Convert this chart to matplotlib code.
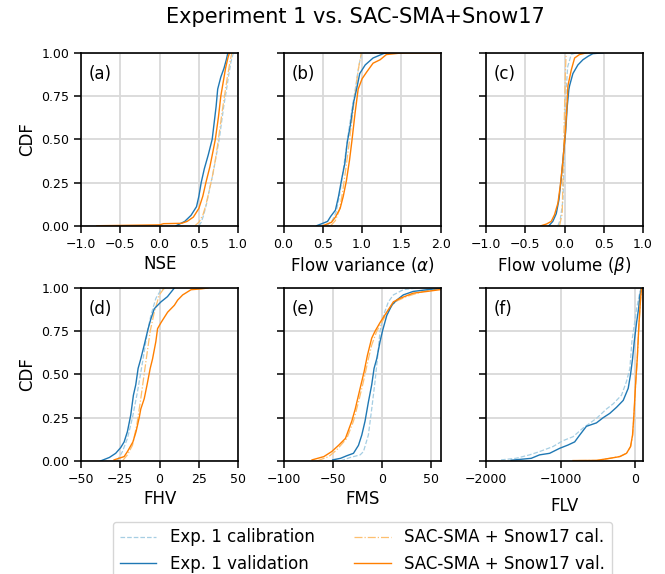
import matplotlib
matplotlib.use("Agg")
import matplotlib.pyplot as plt

series_labels = ["Exp. 1 calibration", "Exp. 1 validation",
                 "SAC-SMA + Snow17 cal.", "SAC-SMA + Snow17 val."]

# ---- (a) NSE : points (metric value, CDF) ----
nse_exp_cal_x = [0.50, 0.53, 0.56, 0.60, 0.64, 0.68, 0.72, 0.76, 0.79, 0.82, 0.85, 0.88, 0.91, 0.94]
nse_exp_cal_p = [0.00, 0.02, 0.06, 0.13, 0.22, 0.30, 0.40, 0.50, 0.60, 0.70, 0.78, 0.87, 0.95, 1.00]
nse_exp_val_x = [0.21, 0.32, 0.40, 0.47, 0.50, 0.53, 0.57, 0.62, 0.67, 0.72, 0.74, 0.78, 0.82, 0.85, 0.87]
nse_exp_val_p = [0.00, 0.025, 0.06, 0.11, 0.17, 0.25, 0.33, 0.41, 0.50, 0.69, 0.79, 0.86, 0.91, 0.96, 1.00]
nse_sac_cal_x = [0.45, 0.50, 0.55, 0.59, 0.63, 0.67, 0.71, 0.74, 0.77, 0.80, 0.83, 0.86, 0.89, 0.92]
nse_sac_cal_p = [0.00, 0.02, 0.06, 0.12, 0.20, 0.28, 0.38, 0.47, 0.57, 0.67, 0.76, 0.85, 0.93, 1.00]
nse_sac_val_x = [-0.80, 0.00, 0.05, 0.28, 0.35, 0.43, 0.50, 0.55, 0.59, 0.64, 0.68, 0.71, 0.75, 0.78, 0.81, 0.84, 0.87, 0.89]
nse_sac_val_p = [0.000, 0.005, 0.012, 0.014, 0.025, 0.05, 0.10, 0.17, 0.25, 0.34, 0.43, 0.50, 0.63, 0.75, 0.83, 0.91, 0.97, 1.00]

# ---- (b) Flow variance (alpha) ----
alpha_exp_cal_x = [0.55, 0.62, 0.67, 0.71, 0.75, 0.79, 0.83, 0.87, 0.91, 0.94, 0.97, 1.00]
alpha_exp_cal_p = [0.00, 0.03, 0.08, 0.17, 0.29, 0.42, 0.55, 0.67, 0.78, 0.87, 0.95, 1.00]
alpha_exp_val_x = [0.42, 0.56, 0.60, 0.66, 0.70, 0.74, 0.78, 0.81, 0.85, 0.89, 0.93, 0.97, 1.04, 1.14, 1.27, 1.31]
alpha_exp_val_p = [0.00, 0.025, 0.054, 0.09, 0.17, 0.27, 0.36, 0.48, 0.58, 0.71, 0.79, 0.88, 0.93, 0.97, 0.995, 1.00]
alpha_sac_cal_x = [0.60, 0.66, 0.71, 0.75, 0.79, 0.83, 0.87, 0.91, 0.95, 0.99]
alpha_sac_cal_p = [0.00, 0.03, 0.09, 0.19, 0.32, 0.46, 0.61, 0.76, 0.90, 1.00]
alpha_sac_val_x = [0.50, 0.61, 0.66, 0.72, 0.76, 0.80, 0.84, 0.87, 0.91, 0.95, 1.00, 1.06, 1.14, 1.23, 1.31, 1.48, 2.10]
alpha_sac_val_p = [0.00, 0.02, 0.05, 0.10, 0.17, 0.26, 0.38, 0.49, 0.65, 0.79, 0.85, 0.89, 0.94, 0.96, 0.99, 0.998, 1.00]

# ---- (c) Flow volume (beta) ----
beta_exp_cal_x = [-0.085, -0.055, -0.02, 0.00, 0.02, 0.04, 0.085, 0.15]
beta_exp_cal_p = [0.00, 0.035, 0.15, 0.50, 0.79, 0.92, 0.99, 1.00]
beta_exp_val_x = [-0.20, -0.15, -0.106, -0.072, -0.043, -0.013, 0.013, 0.034, 0.055, 0.064, 0.106, 0.17, 0.234, 0.30, 0.36, 0.49]
beta_exp_val_p = [0.00, 0.025, 0.07, 0.15, 0.27, 0.42, 0.54, 0.69, 0.79, 0.81, 0.88, 0.93, 0.96, 0.98, 0.995, 1.00]
beta_sac_cal_x = [-0.064, -0.03, -0.01, 0.01, 0.02]
beta_sac_cal_p = [0.00, 0.07, 0.50, 0.88, 1.00]
beta_sac_val_x = [-0.30, -0.23, -0.17, -0.128, -0.085, -0.055, -0.02, 0.01, 0.03, 0.043, 0.085, 0.128, 0.19, 0.28]
beta_sac_val_p = [0.00, 0.01, 0.025, 0.064, 0.13, 0.23, 0.38, 0.54, 0.69, 0.81, 0.90, 0.97, 0.99, 1.00]

# ---- (d) FHV ----
fhv_exp_cal_x = [-27.0, -23.7, -20.5, -17.3, -14.1, -10.9, -7.7, -5.6, -2.4, 0.9, 4.0]
fhv_exp_cal_p = [0.00, 0.054, 0.13, 0.25, 0.40, 0.57, 0.75, 0.84, 0.94, 0.99, 1.00]
fhv_exp_val_x = [-37.6, -32.0, -28.0, -24.8, -22.6, -20.5, -18.4, -16.7, -15.2, -13.7, -12.0, -9.8, -7.3, -5.6, -3.4, 0.9, 5.0, 9.4]
fhv_exp_val_p = [0.00, 0.02, 0.044, 0.077, 0.11, 0.17, 0.265, 0.38, 0.44, 0.535, 0.59, 0.67, 0.765, 0.82, 0.88, 0.92, 0.95, 1.00]
fhv_sac_cal_x = [-23.7, -20.5, -17.3, -14.5, -12.0, -8.8, -6.0, -3.4, -0.2, 3.0]
fhv_sac_cal_p = [0.00, 0.035, 0.09, 0.21, 0.36, 0.57, 0.75, 0.86, 0.96, 1.00]
fhv_sac_val_x = [-29.0, -22.6, -20.5, -17.0, -15.0, -13.0, -12.0, -9.8, -8.0, -6.0, -4.5, -2.4, -1.3, 0.9, 5.1, 9.4, 11.5, 14.7, 20.0, 26.5, 30.8]
fhv_sac_val_p = [0.006, 0.025, 0.054, 0.11, 0.17, 0.25, 0.30, 0.36, 0.44, 0.535, 0.59, 0.69, 0.765, 0.80, 0.86, 0.90, 0.93, 0.96, 0.99, 0.995, 1.00]

# ---- (e) FMS ----
fms_exp_cal_x = [-42.0, -32.0, -22.0, -18.6, -13.6, -10.2, -6.8, -4.4, -1.7, 1.7, 6.8, 11.9, 22.0, 35.6]
fms_exp_cal_p = [0.00, 0.02, 0.035, 0.054, 0.15, 0.30, 0.46, 0.59, 0.75, 0.84, 0.92, 0.96, 0.99, 1.00]
fms_exp_val_x = [-50.0, -42.0, -35.6, -28.8, -23.7, -20.3, -17.0, -13.6, -10.2, -7.8, -5.1, -1.7, 1.0, 5.1, 10.2, 15.3, 22.0, 32.0, 46.0, 63.0]
fms_exp_val_p = [0.006, 0.015, 0.03, 0.044, 0.09, 0.15, 0.23, 0.34, 0.44, 0.535, 0.59, 0.69, 0.756, 0.84, 0.90, 0.93, 0.96, 0.98, 0.99, 1.00]
fms_sac_cal_x = [-66.0, -54.0, -46.0, -35.6, -28.8, -23.7, -18.6, -13.6, -10.2, -5.1, 0.0, 6.8, 13.6, 25.0, 42.0, 65.0]
fms_sac_cal_p = [0.00, 0.025, 0.063, 0.13, 0.23, 0.34, 0.46, 0.59, 0.67, 0.75, 0.80, 0.87, 0.92, 0.95, 0.98, 1.00]
fms_sac_val_x = [-71.0, -59.0, -51.0, -44.0, -37.0, -30.5, -27.0, -22.0, -18.0, -14.6, -10.2, -6.8, -1.7, 5.1, 11.9, 18.6, 32.0, 46.0, 59.0, 70.0]
fms_sac_val_p = [0.006, 0.025, 0.054, 0.09, 0.13, 0.23, 0.30, 0.42, 0.515, 0.61, 0.71, 0.75, 0.80, 0.86, 0.92, 0.94, 0.97, 0.98, 0.99, 1.00]

# ---- (f) FLV ----
flv_exp_cal_x = [-1800, -1600, -1417, -1283, -1103, -969, -834, -700, -520, -386, -296, -184, -117, -72, -45, -13, 18, 63, 85]
flv_exp_cal_p = [0.006, 0.015, 0.035, 0.054, 0.083, 0.117, 0.14, 0.19, 0.246, 0.30, 0.33, 0.38, 0.46, 0.535, 0.69, 0.785, 0.88, 0.98, 1.00]
flv_exp_val_x = [-1664, -1395, -1283, -1148, -1013, -901, -812, -744, -655, -520, -430, -341, -251, -161, -94, -63, -36, -13, 18, 45, 63, 85]
flv_exp_val_p = [0.004, 0.015, 0.035, 0.044, 0.073, 0.092, 0.11, 0.15, 0.20, 0.22, 0.25, 0.275, 0.31, 0.35, 0.42, 0.50, 0.59, 0.69, 0.80, 0.88, 0.96, 1.00]
flv_sac_cal_x = [-760, -500, -330, -200, -112, -60, -33, -16, 5, 28, 50, 73, 88]
flv_sac_cal_p = [0.002, 0.003, 0.016, 0.027, 0.046, 0.085, 0.15, 0.265, 0.44, 0.59, 0.785, 0.94, 1.00]
flv_sac_val_x = [-834, -520, -341, -206, -117, -63, -36, -18, 4, 27, 49, 72, 85]
flv_sac_val_p = [0.002, 0.003, 0.015, 0.025, 0.044, 0.083, 0.15, 0.265, 0.44, 0.59, 0.785, 0.94, 1.00]

panels = [
    ("(a)", "NSE", (-1.0, 1.0), [-1.0, -0.5, 0.0, 0.5, 1.0], ["−1.0", "−0.5", "0.0", "0.5", "1.0"],
     [(nse_exp_cal_x, nse_exp_cal_p), (nse_exp_val_x, nse_exp_val_p),
      (nse_sac_cal_x, nse_sac_cal_p), (nse_sac_val_x, nse_sac_val_p)]),
    ("(b)", r"Flow variance ($\alpha$)", (0.0, 2.0), [0.0, 0.5, 1.0, 1.5, 2.0], ["0.0", "0.5", "1.0", "1.5", "2.0"],
     [(alpha_exp_cal_x, alpha_exp_cal_p), (alpha_exp_val_x, alpha_exp_val_p),
      (alpha_sac_cal_x, alpha_sac_cal_p), (alpha_sac_val_x, alpha_sac_val_p)]),
    ("(c)", r"Flow volume ($\beta$)", (-1.0, 1.0), [-1.0, -0.5, 0.0, 0.5, 1.0], ["−1.0", "−0.5", "0.0", "0.5", "1.0"],
     [(beta_exp_cal_x, beta_exp_cal_p), (beta_exp_val_x, beta_exp_val_p),
      (beta_sac_cal_x, beta_sac_cal_p), (beta_sac_val_x, beta_sac_val_p)]),
    ("(d)", "FHV", (-50, 50), [-50, -25, 0, 25, 50], ["−50", "−25", "0", "25", "50"],
     [(fhv_exp_cal_x, fhv_exp_cal_p), (fhv_exp_val_x, fhv_exp_val_p),
      (fhv_sac_cal_x, fhv_sac_cal_p), (fhv_sac_val_x, fhv_sac_val_p)]),
    ("(e)", "FMS", (-100, 60), [-100, -50, 0, 50], ["−100", "−50", "0", "50"],
     [(fms_exp_cal_x, fms_exp_cal_p), (fms_exp_val_x, fms_exp_val_p),
      (fms_sac_cal_x, fms_sac_cal_p), (fms_sac_val_x, fms_sac_val_p)]),
    ("(f)", "FLV", (-2000, 105), [-2000, -1000, 0], ["−2000", "−1000", "0"],
     [(flv_exp_cal_x, flv_exp_cal_p), (flv_exp_val_x, flv_exp_val_p),
      (flv_sac_cal_x, flv_sac_cal_p), (flv_sac_val_x, flv_sac_val_p)]),
]

colors = ["#a6cee3", "#1f78b4", "#fdbf6f", "#ff7f00"]
styles = ["--", "-", "-.", "-"]
widths = [0.9, 1.0, 0.9, 1.0]
draw_order = [0, 2, 1, 3]

fig, axes = plt.subplots(2, 3, figsize=(6.65, 5.74), dpi=100)
fig.subplots_adjust(left=0.122, right=0.967, top=0.908, bottom=0.197, wspace=0.29, hspace=0.36)

handles = [None] * 4
for ax, (tag, xlabel, xlim, xticks, xticklabels, data) in zip(axes.flat, panels):
    for i in draw_order:
        xs, ps = data[i]
        h, = ax.plot(xs, ps, color=colors[i], linestyle=styles[i], lw=widths[i],
                     label=series_labels[i])
        handles[i] = h
    ax.set_xlim(*xlim)
    ax.set_ylim(0, 1)
    ax.set_xticks(xticks)
    ax.set_xticklabels(xticklabels, fontsize=9)
    ax.set_yticks([0, 0.25, 0.5, 0.75, 1.0])
    ax.tick_params(length=5, width=1.1, labelsize=9, pad=3.5)
    ax.grid(True, color="#d9d9d9", lw=1.3)
    ax.set_axisbelow(True)
    ax.set_xlabel(xlabel, fontsize=12, labelpad=8 if tag == "(f)" else 3)
    ax.text(0.05, 0.93, tag, transform=ax.transAxes, fontsize=12, va="top", ha="left")
    for s in ax.spines.values():
        s.set_linewidth(1.2)

for r in range(2):
    axes[r, 0].set_yticklabels(["0.00", "0.25", "0.50", "0.75", "1.00"], fontsize=9)
    axes[r, 0].set_ylabel("CDF", fontsize=12)
    for c in (1, 2):
        axes[r, c].set_yticklabels([])

fig.suptitle("Experiment 1 vs. SAC-SMA+Snow17", fontsize=15, x=0.534, y=0.988)

fig.legend(handles, series_labels, loc="upper center", bbox_to_anchor=(0.545, 0.091),
           ncol=2, fontsize=12, frameon=True, handlelength=2.2, columnspacing=2.4,
           borderaxespad=0.0, fancybox=True)

fig.savefig("out.png", dpi=100)
